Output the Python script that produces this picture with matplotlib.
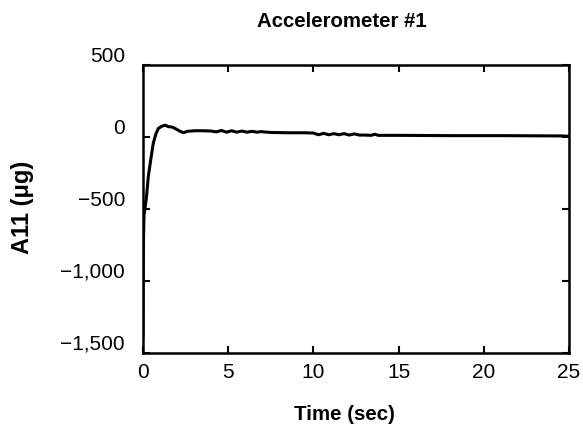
import matplotlib
matplotlib.use("Agg")
import matplotlib.pyplot as plt
from matplotlib.transforms import offset_copy

time_sec = [0.0, 0.01, 0.03, 0.06, 0.1, 0.2, 0.31, 0.45, 0.6, 0.75, 0.9, 1.1, 1.29, 1.5, 1.7, 1.88, 2.1, 2.37, 2.6, 3.05,
            3.5, 4.0, 4.3, 4.6, 4.9, 5.2, 5.5, 5.8, 6.1, 6.4, 6.7, 6.9, 7.5, 8.5, 9.5, 10.0,
            10.3, 10.6, 10.9, 11.2, 11.5, 11.8, 12.1, 12.4, 12.7, 13.0, 13.4, 13.6, 13.8, 15.0, 18.0, 21.0, 24.5, 25.0]
accel_ug = [-1380, -1000, -700, -540, -510, -420, -275, -160, -44, 20, 60, 75, 83, 72, 70, 60, 45, 30, 40, 44,
            44, 42, 36, 46, 34, 44, 34, 42, 34, 40, 34, 38, 32, 30, 30, 28,
            16, 26, 16, 24, 16, 24, 14, 22, 14, 14, 12, 20, 12, 12, 10, 10, 8, 6]

x_ticks = [0, 5, 10, 15, 20, 25]
y_ticks = [500, 0, -500, -1000, -1500]
y_tick_labels = ["500", "0", "\u2212500", "\u22121,000", "\u22121,500"]

plt.rcParams['font.family'] = ['Liberation Sans', 'DejaVu Sans']

fig = plt.figure(figsize=(5.83, 4.34), dpi=100)
ax = fig.add_axes([0.2453, 0.1866, 0.7307, 0.6634])
ax.plot(time_sec, accel_ug, color='black', linewidth=2.2, solid_joinstyle='round')
ax.set_xlim(0, 25)
ax.set_ylim(-1500, 500)
ax.set_xticks(x_ticks)
ax.set_yticks(y_ticks)
ax.set_yticklabels([])
ax.tick_params(direction='in', length=5, width=1.5, top=True, right=True, labelsize=15)
ax.tick_params(axis='x', pad=7)
for sp in ax.spines.values():
    sp.set_linewidth(1.8)

ytr = offset_copy(ax.get_yaxis_transform(), fig=fig, x=-18, y=9, units='dots')
for v, s in zip(y_ticks, y_tick_labels):
    ax.text(0, v, s, transform=ytr, ha='right', va='center', fontsize=15, clip_on=False)

fig.text(342 / 583, 1 - 27 / 434, "Accelerometer #1", ha='center', va='baseline',
         fontsize=14.7, fontweight='bold')
fig.text(344 / 583, 1 - 420 / 434, "Time (sec)", ha='center', va='baseline',
         fontsize=14.8, fontweight='bold')
fig.text(22 / 583, 1 - 207 / 434, "A11 (\u03bcg)", ha='center', va='center', rotation=90,
         fontsize=17, fontweight='bold')

fig.savefig("out.png", dpi=100)
